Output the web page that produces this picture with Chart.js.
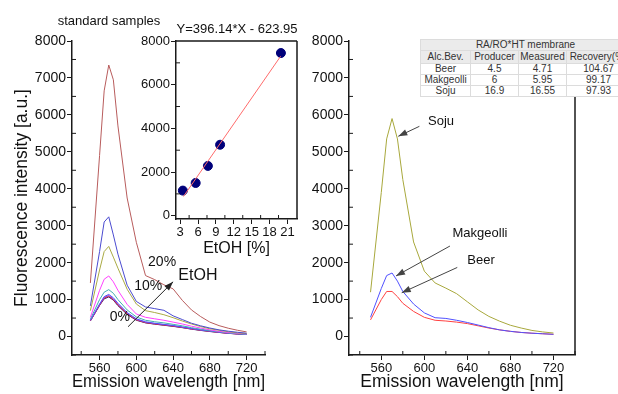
<!DOCTYPE html>
<html>
<head>
<meta charset="utf-8">
<script src="https://cdn.jsdelivr.net/npm/chart.js@4.4.1/dist/chart.umd.min.js"></script>
<style>
  body { margin: 0; background: #fff; width: 618px; height: 394px; position: relative; overflow: hidden;
         font-family: 'Liberation Sans', Arial, sans-serif; }
  canvas { position: absolute; }
  .note { position: absolute; color: #111; white-space: nowrap; transform: translate(-50%, -50%); }
  #tbl { position: absolute; left: 420px; top: 39px; width: 198px; height: 58px; overflow: hidden; background: #fff; }
  #tbl table { border-collapse: collapse; table-layout: fixed; width: 210px; font-size: 10px; color: #333; }
  #tbl td { padding: 0; text-align: center; border: 1px solid #dcdcdc; height: 10px; line-height: 10px; white-space: nowrap; }
  #tbl tr.g td { background: #ebebeb; }
  #tbl tr.h td { height: 12px; line-height: 12px; }
</style>
</head>
<body>
<canvas id="left" width="300" height="394" style="left:0;top:0"></canvas>
<canvas id="right" width="318" height="394" style="left:300px;top:0"></canvas>
<canvas id="inset" width="170" height="260" style="left:140px;top:0"></canvas>
<div class="note" style="left:109px;top:20px;font-size:13px">standard samples</div>
<div class="note" style="left:237px;top:28px;font-size:13px">Y=396.14*X - 623.95</div>
<div id="tbl"></div>

<script>
// emission wavelengths (nm)
const wavelengths = [550, 560, 565, 570, 575, 580, 590, 600, 610, 620, 630, 640, 650, 660, 670, 680, 690, 700, 710, 720];

// standard samples, from highest to lowest EtOH
const std20 = [1450, 4900, 6650, 7350, 6950, 5700, 3750, 2550, 1650, 1540, 1400, 1290, 980, 720, 540, 390, 295, 225, 170, 125];
const std10 = [830, 2300, 3100, 3240, 2750, 2230, 1390, 950, 800, 755, 710, 560, 460, 360, 290, 230, 180, 145, 115, 90];
const std7 = [700, 1800, 2300, 2440, 2150, 1850, 1280, 880, 700, 650, 590, 510, 420, 340, 270, 210, 170, 130, 100, 80];
const std5 = [520, 1250, 1550, 1640, 1480, 1250, 870, 610, 520, 480, 440, 390, 340, 280, 230, 180, 140, 110, 90, 70];
const std3 = [470, 1000, 1200, 1270, 1170, 1000, 720, 530, 440, 400, 370, 330, 290, 240, 200, 160, 130, 100, 80, 60];
const std2 = [440, 880, 1080, 1140, 1050, 900, 650, 480, 400, 360, 330, 300, 260, 220, 180, 150, 120, 95, 75, 60];
const std1 = [430, 860, 1060, 1110, 1020, 870, 630, 460, 385, 350, 320, 290, 250, 210, 175, 145, 115, 90, 72, 58];
const stdHalf = [425, 850, 1040, 1090, 1000, 850, 610, 450, 375, 340, 310, 280, 245, 205, 170, 140, 112, 88, 70, 56];
const std0 = [420, 840, 1020, 1070, 985, 835, 600, 440, 370, 335, 305, 275, 240, 200, 165, 135, 110, 86, 68, 55];

// real samples
const soju = [1200, 3900, 5350, 5900, 5350, 4250, 2560, 1770, 1450, 1310, 1160, 940, 720, 545, 415, 305, 230, 165, 125, 95];
const makgeolli = [520, 1300, 1650, 1720, 1500, 1220, 880, 640, 510, 490, 440, 380, 310, 240, 180, 140, 110, 90, 75, 60];
const beer = [450, 1000, 1220, 1220, 1080, 900, 680, 520, 440, 420, 390, 350, 290, 230, 180, 140, 110, 90, 75, 60];

// calibration inset
const etoh = [3.45, 5.6, 7.65, 9.7, 19.9];
const peakIntensity = [1150, 1500, 2280, 3250, 7450];
const fitX = [3.55, 19.85];
const fitY = [880, 7300];

// table
const beverages = ['Beer', 'Makgeolli', 'Soju'];
const producer = ['4.5', '6', '16.9'];
const measured = ['4.71', '5.95', '16.55'];
const recovery = ['104.67', '99.17', '97.93'];

// ticks
const wlTicks = [560, 600, 640, 680, 720];
const wlMinor = [540, 580, 620, 660, 700, 740];
const intTicks = [0, 1000, 2000, 3000, 4000, 5000, 6000, 7000, 8000];
const intMinor = [-500, 500, 1500, 2500, 3500, 4500, 5500, 6500, 7500];
const insetXTicks = [3, 6, 9, 12, 15, 18, 21];
const insetXMinor = [4.5, 7.5, 10.5, 13.5, 16.5, 19.5];
const insetYTicks = [0, 2000, 4000, 6000, 8000];
const insetYMinor = [1000, 3000, 5000, 7000];

Chart.defaults.font.family = "'Liberation Sans', Arial, sans-serif";
Chart.defaults.color = '#111';
Chart.defaults.animation = false;

const axisColor = '#1a1a1a';

function pts(xs, ys) {
  return xs.map((x, i) => ({ x: x, y: ys[i] }));
}

function curve(label, values, color) {
  return { label: label, data: pts(wavelengths, values), borderColor: color, borderWidth: 1,
           pointRadius: 0, tension: 0, fill: false };
}

function axis(min, max, majors, fit, fontSize, title, titlePad) {
  return {
    type: 'linear', min: min, max: max,
    afterBuildTicks: s => { s.ticks = majors.map(v => ({ value: v })); },
    afterFit: s => { if (s.isHorizontal()) s.height = fit; else s.width = fit; },
    ticks: { font: { size: fontSize }, color: '#111', padding: 1, maxRotation: 0, autoSkip: false,
             callback: v => String(v) },
    grid: { drawOnChartArea: false, tickLength: 5, tickColor: axisColor, tickWidth: 1 },
    border: { color: axisColor, width: 1.5 },
    title: title ? { display: true, text: title, font: { size: title === 'EtOH [%]' ? 16 : 17.5 },
                     color: '#111', padding: titlePad } : { display: false }
  };
}

function arrow(ctx, x1, y1, x2, y2, color) {
  ctx.strokeStyle = color;
  ctx.fillStyle = color;
  ctx.lineWidth = 1;
  ctx.beginPath();
  ctx.moveTo(x1, y1);
  ctx.lineTo(x2, y2);
  ctx.stroke();
  const a = Math.atan2(y2 - y1, x2 - x1), L = 9, W = 3.2;
  ctx.beginPath();
  ctx.moveTo(x2, y2);
  ctx.lineTo(x2 - L * Math.cos(a) + W * Math.sin(a), y2 - L * Math.sin(a) - W * Math.cos(a));
  ctx.lineTo(x2 - L * Math.cos(a) - W * Math.sin(a), y2 - L * Math.sin(a) + W * Math.cos(a));
  ctx.closePath();
  ctx.fill();
}

// minor ticks, frame lines, labels and arrows
const decor = {
  id: 'decor',
  afterDraw(chart, args, o) {
    const { ctx, chartArea: a } = chart;
    const x = chart.scales.x, y = chart.scales.y;
    ctx.save();
    ctx.strokeStyle = axisColor;
    ctx.lineWidth = 1;
    ctx.beginPath();
    (o.minorX || []).forEach(v => {
      const px = x.getPixelForValue(v);
      ctx.moveTo(px, a.bottom); ctx.lineTo(px, a.bottom - 4);
    });
    (o.minorY || []).forEach(v => {
      const py = y.getPixelForValue(v);
      ctx.moveTo(a.left, py); ctx.lineTo(a.left + 4, py);
    });
    ctx.stroke();
    if (o.right || o.top) {
      ctx.lineWidth = 1.5;
      ctx.beginPath();
      if (o.right) { ctx.moveTo(a.right, a.top); ctx.lineTo(a.right, a.bottom); }
      if (o.top) { ctx.moveTo(a.left, a.top); ctx.lineTo(a.right, a.top); }
      ctx.stroke();
    }
    (o.arrows || []).forEach(r => {
      arrow(ctx, x.getPixelForValue(r.x1), y.getPixelForValue(r.y1),
            x.getPixelForValue(r.x2), y.getPixelForValue(r.y2), r.color);
    });
    ctx.fillStyle = '#111';
    ctx.textAlign = 'center';
    ctx.textBaseline = 'middle';
    (o.labels || []).forEach(t => {
      ctx.font = t.size + "px 'Liberation Sans', Arial, sans-serif";
      ctx.fillText(t.text, x.getPixelForValue(t.x), y.getPixelForValue(t.y));
    });
    ctx.restore();
  }
};

const common = {
  responsive: false,
  devicePixelRatio: 1,
  events: [],
  plugins: { legend: { display: false }, tooltip: { enabled: false } }
};

new Chart(document.getElementById('left'), {
  type: 'line',
  data: {
    datasets: [
      curve('20%', std20, '#b85c5c'),
      curve('10%', std10, '#4b4bd0'),
      curve('7.5%', std7, '#aaaa44'),
      curve('5.5%', std5, '#ff40ff'),
      curve('3.5%', std3, '#40b0b0'),
      curve('2%', std2, '#5050ff'),
      curve('1%', std1, '#a040c0'),
      curve('0.5%', stdHalf, '#e02020'),
      curve('0%', std0, '#202080')
    ]
  },
  options: Object.assign({}, common, {
    layout: { padding: { top: 41, right: 35, bottom: 0, left: 0 } },
    scales: {
      x: axis(530, 740, wlTicks, 39, 13, 'Emission wavelength [nm]', { top: 0, bottom: 1 }),
      y: axis(-500, 8000, intTicks, 72, 14, 'Fluorescence intensity [a.u.]', { top: 12, bottom: 0 })
    },
    plugins: Object.assign({}, common.plugins, {
      decor: {
        minorX: wlMinor, minorY: intMinor,
        labels: [
          { text: '20%', x: 628, y: 2015, size: 14 },
          { text: '10%', x: 613, y: 1366, size: 14 },
          { text: '0%', x: 582, y: 528, size: 14 },
          { text: 'EtOH', x: 667, y: 1636, size: 16 }
        ],
        arrows: [{ x1: 591, y1: 265, x2: 640, y2: 1482, color: '#222' }]
      }
    })
  }),
  plugins: [decor]
});

new Chart(document.getElementById('right'), {
  type: 'line',
  data: {
    datasets: [
      curve('Soju', soju, '#a8a83c'),
      curve('Makgeolli', makgeolli, '#5050ff'),
      curve('Beer', beer, '#ff4040')
    ]
  },
  options: Object.assign({}, common, {
    layout: { padding: { top: 41, right: 43, bottom: 0, left: 0 } },
    scales: {
      x: axis(530, 740, wlTicks, 39, 13, 'Emission wavelength [nm]', { top: 0, bottom: 1 }),
      y: axis(-500, 8000, intTicks, 49, 14, null)
    },
    plugins: Object.assign({}, common.plugins, {
      decor: {
        minorX: wlMinor, minorY: intMinor, right: true,
        labels: [
          { text: 'Soju', x: 615.5, y: 5830, size: 13 },
          { text: 'Makgeolli', x: 651.7, y: 2800, size: 13 },
          { text: 'Beer', x: 652.7, y: 2070, size: 13 }
        ],
        arrows: [
          { x1: 595.4, y1: 5690, x2: 575.8, y2: 5420, color: '#444' },
          { x1: 623.8, y1: 2450, x2: 573.7, y2: 1640, color: '#444' },
          { x1: 630.6, y1: 1870, x2: 579, y2: 1185, color: '#444' }
        ]
      }
    })
  }),
  plugins: [decor]
});

new Chart(document.getElementById('inset'), {
  type: 'scatter',
  data: {
    datasets: [
      { label: 'fit', data: pts(fitX, fitY), showLine: true, borderColor: '#ff6b6b', borderWidth: 1,
        pointRadius: 0 },
      { label: 'peak', data: pts(etoh, peakIntensity), backgroundColor: '#00007a', borderColor: '#00007a',
        pointRadius: 4.5 }
    ]
  },
  options: Object.assign({}, common, {
    layout: { padding: { top: 41, right: 13, bottom: 0, left: 0 } },
    scales: {
      x: axis(2.3, 22.6, insetXTicks, 41, 13, 'EtOH [%]', { top: 0, bottom: 2 }),
      y: axis(-150, 8000, insetYTicks, 36, 13, null)
    },
    plugins: Object.assign({}, common.plugins, {
      decor: { minorX: insetXMinor, minorY: insetYMinor, right: true, top: true }
    })
  }),
  plugins: [decor]
});

// recovery table
let html = '<table><colgroup><col style="width:50px"><col style="width:48px"><col style="width:48px"><col style="width:64px"></colgroup>';
html += '<tr class="g"><td colspan="4">RA/RO*HT membrane</td></tr>';
html += '<tr class="g h"><td>Alc.Bev.</td><td>Producer</td><td>Measured</td><td>Recovery(%)</td></tr>';
beverages.forEach((b, i) => {
  html += '<tr><td>' + b + '</td><td>' + producer[i] + '</td><td>' + measured[i] + '</td><td>' + recovery[i] + '</td></tr>';
});
html += '</table>';
document.getElementById('tbl').innerHTML = html;
</script>
</body>
</html>
